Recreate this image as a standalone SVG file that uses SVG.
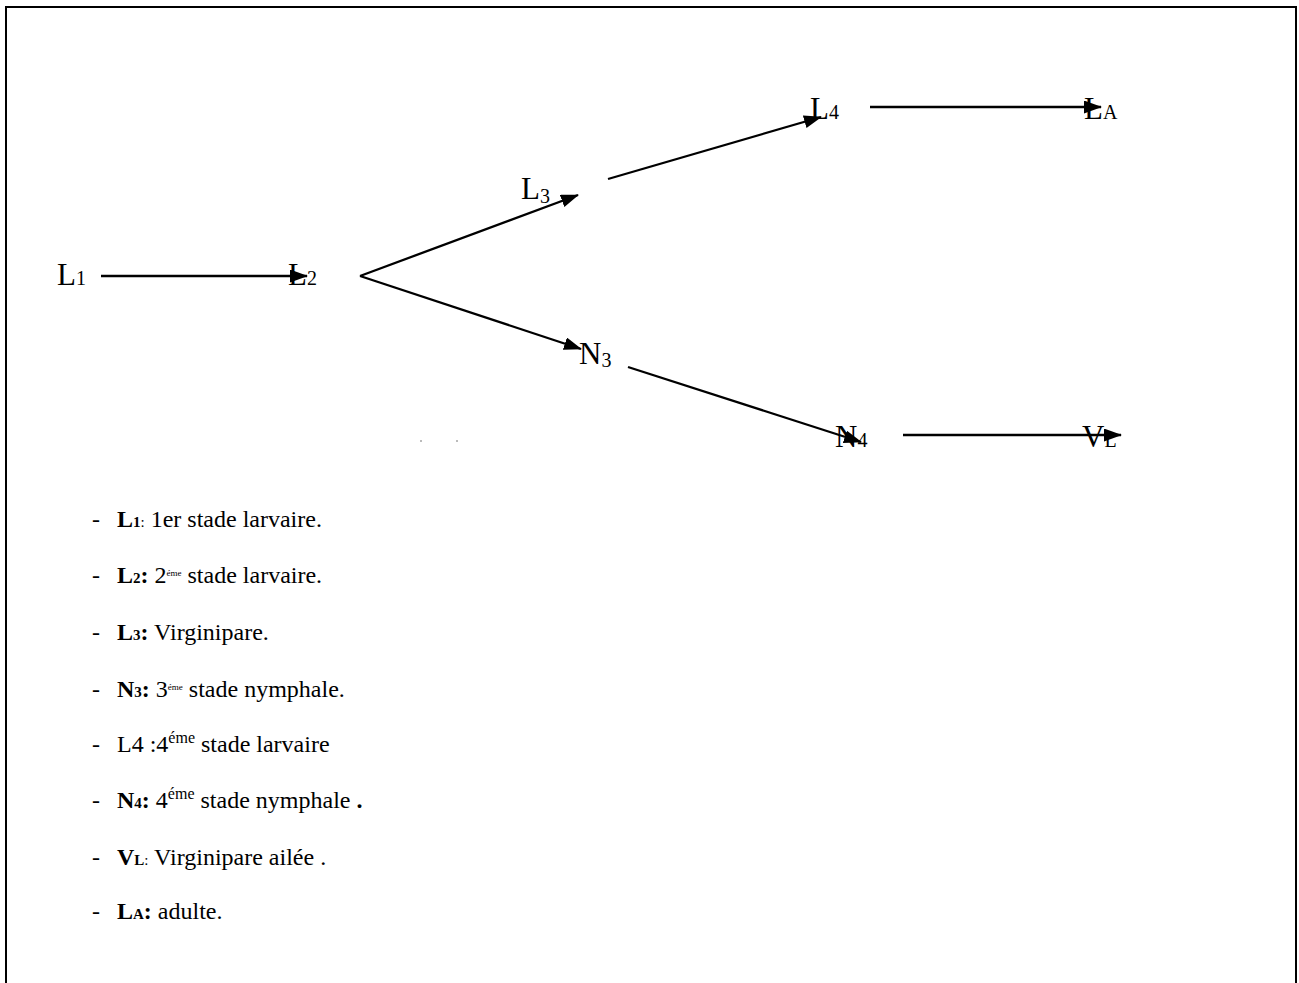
<svg xmlns="http://www.w3.org/2000/svg" width="1299" height="983" viewBox="0 0 1299 983">
<defs>
<style>
.t{font-family:"Liberation Serif","Times New Roman",serif;fill:#000}
.n{font-size:31px}
.s{font-size:20px}
.li{font-size:24px}
.b{font-weight:bold}
.sm{font-size:15px}
.sp{font-size:16px}
.c{stroke:#000;stroke-width:2.3;fill:none;marker-end:url(#ah)}
</style>
<marker id="ah" viewBox="0 0 18 13" refX="17" refY="6.5" markerWidth="18" markerHeight="13" markerUnits="userSpaceOnUse" orient="auto">
<path d="M0,0 L18,6.5 L0,13 Z" fill="#000"/>
</marker>
</defs>
<rect width="1299" height="983" fill="#fff"/>
<path d="M6,983 V7 H1296 V983" fill="none" stroke="#000" stroke-width="2"/>

<g id="connectors">
<line class="c" x1="101" y1="276" x2="307" y2="276"/>
<line class="c" x1="360" y1="276" x2="578" y2="195"/>
<line class="c" x1="360" y1="276" x2="581" y2="349"/>
<line class="c" x1="608" y1="179" x2="821" y2="117"/>
<line class="c" x1="870" y1="107" x2="1101" y2="107"/>
<line class="c" x1="628" y1="367" x2="861" y2="442"/>
<line class="c" x1="903" y1="435" x2="1121" y2="435"/>
</g>

<g id="L1"><text class="t n" x="57" y="285">L<tspan class="s">1</tspan></text></g>
<g id="L2"><text class="t n" x="288" y="285">L<tspan class="s">2</tspan></text></g>
<g id="L3"><text class="t n" x="521" y="199">L<tspan class="s" dy="4">3</tspan></text></g>
<g id="L4"><text class="t n" x="810" y="119">L<tspan class="s">4</tspan></text></g>
<g id="LA"><text class="t n" x="1084" y="119">L<tspan class="s">A</tspan></text></g>
<g id="N3"><text class="t n" x="579" y="364">N<tspan class="s" dy="3">3</tspan></text></g>
<g id="N4"><text class="t n" x="835" y="447">N<tspan class="s">4</tspan></text></g>
<g id="VL"><text class="t n" x="1082" y="447">V<tspan class="s">L</tspan></text></g>

<rect x="420" y="440" width="2" height="2" fill="#bbb"/>
<rect x="456" y="440" width="2" height="2" fill="#bbb"/>

<g id="legend" class="t li">
<text x="92" y="527">-</text>
<text x="117" y="527"><tspan class="b">L</tspan><tspan class="b sm">1</tspan><tspan class="sm">:</tspan> 1er stade larvaire.</text>
<text x="92" y="583">-</text>
<text x="117" y="583"><tspan class="b">L</tspan><tspan class="b sm">2</tspan><tspan class="b">:</tspan> 2<tspan font-size="9" dy="-7">éme</tspan><tspan dy="7"> stade larvaire.</tspan></text>
<text x="92" y="640">-</text>
<text x="117" y="640"><tspan class="b">L</tspan><tspan class="b sm">3</tspan><tspan class="b">:</tspan> Virginipare.</text>
<text x="92" y="697">-</text>
<text x="117" y="697"><tspan class="b">N</tspan><tspan class="b sm">3</tspan><tspan class="b">:</tspan> 3<tspan font-size="9" dy="-7">éme</tspan><tspan dy="7"> stade nymphale.</tspan></text>
<text x="92" y="752">-</text>
<text x="117" y="752">L4 :4<tspan class="sp" dy="-9">éme</tspan><tspan dy="9"> stade larvaire</tspan></text>
<text x="92" y="808">-</text>
<text x="117" y="808"><tspan class="b">N</tspan><tspan class="b sm">4</tspan><tspan class="b">:</tspan> 4<tspan class="sp" dy="-9">éme</tspan><tspan dy="9"> stade nymphale </tspan><tspan class="b">.</tspan></text>
<text x="92" y="865">-</text>
<text x="117" y="865"><tspan class="b">V</tspan><tspan class="b sm">L</tspan><tspan class="sm">:</tspan> Virginipare ailée .</text>
<text x="92" y="919">-</text>
<text x="117" y="919"><tspan class="b">L</tspan><tspan class="b sm">A</tspan><tspan class="b">:</tspan> adulte.</text>
</g>
</svg>
